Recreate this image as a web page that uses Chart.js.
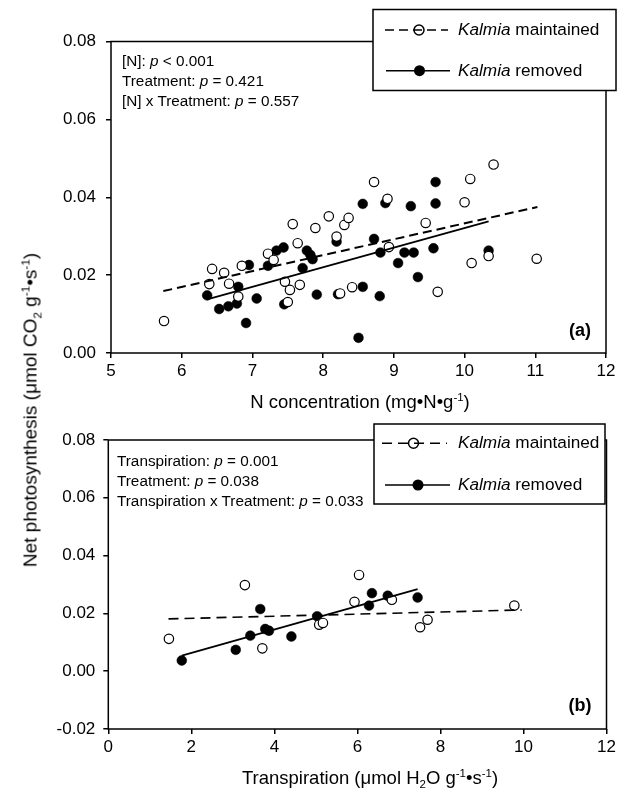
<!DOCTYPE html>
<html><head><meta charset="utf-8">
<script src="https://cdn.jsdelivr.net/npm/chart.js@4.4.0/dist/chart.umd.min.js"></script>
<style>
html,body{margin:0;padding:0;background:#fff;}
body{width:625px;height:792px;position:relative;overflow:hidden;font-family:"Liberation Sans",Arial,sans-serif;color:#000;}
.cw{position:absolute;left:0;width:625px;}
.t{position:absolute;white-space:nowrap;line-height:1;transform:translateY(-50%);}
.ann{font-size:15.3px;}
.leg{font-size:17.2px;}
.ax{font-size:18.5px;transform:translate(-50%,-50%);}
.lab{font-size:18px;font-weight:bold;transform:translate(-50%,-50%);}
sup,sub{font-size:0.62em;line-height:0;}
</style></head>
<body>
<div class="cw" style="top:0;height:400px"><canvas id="ca"></canvas></div>
<div class="cw" style="top:400px;height:392px"><canvas id="cb"></canvas></div>

<div class="t ann" style="left:122px;top:61px">[N]: <i>p</i> &lt; 0.001</div>
<div class="t ann" style="left:122px;top:81px">Treatment: <i>p</i> = 0.421</div>
<div class="t ann" style="left:122px;top:101px">[N] x Treatment: <i>p</i> = 0.557</div>
<div class="t leg" style="left:458px;top:30px"><i>Kalmia</i> maintained</div>
<div class="t leg" style="left:458px;top:71px"><i>Kalmia</i> removed</div>
<div class="t lab" style="left:580px;top:330px">(a)</div>
<div class="t ax" style="left:360px;top:402px">N concentration (mg•N•g<sup>-1</sup>)</div>

<div class="t ann" style="left:117px;top:461px">Transpiration: <i>p</i> = 0.001</div>
<div class="t ann" style="left:117px;top:481px">Treatment: <i>p</i> = 0.038</div>
<div class="t ann" style="left:117px;top:501px">Transpiration x Treatment: <i>p</i> = 0.033</div>
<div class="t leg" style="left:458px;top:443px"><i>Kalmia</i> maintained</div>
<div class="t leg" style="left:458px;top:485px"><i>Kalmia</i> removed</div>
<div class="t lab" style="left:580px;top:705px">(b)</div>
<div class="t ax" style="left:370px;top:778px">Transpiration (μmol H<sub>2</sub>O g<sup>-1</sup>•s<sup>-1</sup>)</div>

<div class="t ax" style="left:30px;top:410px;font-size:19px;transform:translate(-50%,-50%) rotate(-90deg);">Net photosynthesis (μmol CO<sub>2</sub> g<sup>-1</sup>•s<sup>-1</sup>)</div>

<script>
// ---------- Panel (a): N concentration ----------
const aMaintX = [5.75,6.39,6.43,6.60,6.67,6.80,6.85,7.22,7.30,7.46,7.50,7.53,7.57,7.64,7.67,7.89,8.08,8.19,8.24,8.30,8.36,8.41,8.72,8.91,8.93,9.45,9.62,10.00,10.08,10.10,10.34,10.41,11.02];
const aMaintY = [0.0082,0.0177,0.0216,0.0206,0.0178,0.0145,0.0224,0.0255,0.0239,0.0183,0.0131,0.0162,0.0331,0.0282,0.0175,0.0321,0.0351,0.0299,0.0153,0.0329,0.0347,0.0169,0.0439,0.0396,0.0272,0.0334,0.0157,0.0387,0.0447,0.0231,0.0249,0.0484,0.0242];
const aRemX = [6.36,6.53,6.66,6.78,6.80,6.91,6.95,7.06,7.22,7.34,7.44,7.45,7.71,7.77,7.82,7.85,7.91,8.19,8.21,8.50,8.56,8.56,8.72,8.80,8.81,8.88,9.06,9.15,9.24,9.28,9.34,9.56,9.59,9.59,10.34];
const aRemY = [0.0148,0.0113,0.0120,0.0127,0.0170,0.0077,0.0226,0.0140,0.0224,0.0263,0.0271,0.0125,0.0218,0.0263,0.0252,0.0241,0.0150,0.0286,0.0151,0.0039,0.0170,0.0383,0.0293,0.0146,0.0258,0.0385,0.0231,0.0258,0.0377,0.0258,0.0195,0.0269,0.0384,0.0439,0.0263];
const aMaintFitX = [5.74,11.03];
const aMaintFitY = [0.0159,0.0375];
const aRemFitX = [6.36,10.34];
const aRemFitY = [0.0138,0.0338];
const aXTicks = [5,6,7,8,9,10,11,12];
const aYTicks = [0.00,0.02,0.04,0.06,0.08];

// ---------- Panel (b): Transpiration ----------
const bMaintX = [1.46,3.29,3.71,5.08,5.17,5.93,6.04,6.83,7.51,7.69,9.78];
const bMaintY = [0.0112,0.0298,0.0079,0.0161,0.0167,0.0240,0.0333,0.0247,0.0152,0.0178,0.0227];
const bRemX = [1.77,3.07,3.42,3.66,3.78,3.87,4.41,5.03,6.28,6.35,6.73,7.45];
const bRemY = [0.0037,0.0074,0.0123,0.0215,0.0146,0.0140,0.0120,0.0190,0.0227,0.0270,0.0261,0.0255];
const bMaintFitX = [1.45,9.96];
const bMaintFitY = [0.0181,0.0212];
const bRemFitX = [1.77,7.45];
const bRemFitY = [0.0054,0.0284];
const bXTicks = [0,2,4,6,8,10,12];
const bYTicks = [-0.02,0.00,0.02,0.04,0.06,0.08];

const FONT = '"Liberation Sans", Arial, sans-serif';
const pts = (xs, ys) => xs.map((x, i) => ({x, y: ys[i]}));

const boxPlugin = {
  id: 'box',
  afterDraw(chart, args, o) {
    const ctx = chart.ctx, a = chart.chartArea;
    ctx.save();
    ctx.strokeStyle = '#000';
    ctx.lineWidth = 1.5;
    ctx.setLineDash([]);
    ctx.strokeRect(a.left, a.top, a.right - a.left, a.bottom - a.top);
    const L = o.legend;
    ctx.fillStyle = '#fff';
    ctx.fillRect(L.x0, L.y0, L.x1 - L.x0, L.y1 - L.y0);
    ctx.strokeRect(L.x0, L.y0, L.x1 - L.x0, L.y1 - L.y0);
    // row 1: dashed + open circle
    ctx.lineWidth = 1.5;
    ctx.beginPath();
    ctx.arc(L.c1, L.r1, 5, 0, Math.PI * 2);
    ctx.fillStyle = '#fff'; ctx.fill(); ctx.stroke();
    ctx.setLineDash(o.dash);
    ctx.beginPath(); ctx.moveTo(L.s1, L.r1); ctx.lineTo(L.e1, L.r1); ctx.stroke();
    ctx.setLineDash([]);
    // row 2: solid + filled
    ctx.beginPath(); ctx.moveTo(L.s2, L.r2); ctx.lineTo(L.e2, L.r2); ctx.stroke();
    ctx.beginPath(); ctx.arc(L.c2, L.r2, 5.5, 0, Math.PI * 2);
    ctx.fillStyle = '#000'; ctx.fill();
    ctx.restore();
  }
};

function makeChart(id, d) {
  const tickFont = {family: FONT, size: 17};
  return new Chart(document.getElementById(id), {
    type: 'scatter',
    data: {
      datasets: [
        {data: pts(d.mfx, d.mfy), showLine: true, borderColor: '#000', borderWidth: d.dashW, borderDash: d.dash, pointRadius: 0, order: 0},
        {data: pts(d.rfx, d.rfy), showLine: true, borderColor: '#000', borderWidth: 1.8, pointRadius: 0, order: 0},
        {data: pts(d.mx, d.my), pointRadius: 4.7, pointBorderWidth: 1.2, pointBackgroundColor: '#fff', pointBorderColor: '#000', order: 1},
        {data: pts(d.rx, d.ry), pointRadius: 4.9, pointBorderWidth: 0.5, pointBackgroundColor: '#000', pointBorderColor: '#000', order: 2}
      ]
    },
    options: {
      responsive: true, maintainAspectRatio: false, animation: false,
      layout: {padding: {top: d.top, right: d.right, left: 0, bottom: 0}},
      plugins: {legend: {display: false}, tooltip: {enabled: false}, box: {legend: d.legend, dash: d.dash}},
      scales: {
        x: {
          type: 'linear', min: d.xmin, max: d.xmax,
          afterBuildTicks: s => { s.ticks = d.xt.map(v => ({value: v})); },
          ticks: {font: tickFont, color: '#000', padding: 3, maxRotation: 0, autoSkip: false, callback: v => String(v)},
          grid: {display: true, drawOnChartArea: false, drawTicks: true, tickLength: 5, color: '#000', lineWidth: 1.5},
          border: {display: false},
          afterFit: s => { s.height = d.xh; }
        },
        y: {
          type: 'linear', min: d.ymin, max: d.ymax,
          afterBuildTicks: s => { s.ticks = d.yt.map(v => ({value: v})); },
          ticks: {font: tickFont, color: '#000', padding: d.ypad, autoSkip: false, callback: v => (Math.abs(v) < 1e-9 ? 0 : v).toFixed(2)},
          grid: {display: true, drawOnChartArea: false, drawTicks: true, tickLength: 5, color: '#000', lineWidth: 1.5},
          border: {display: false},
          afterFit: s => { s.width = d.yw; }
        }
      }
    },
    plugins: [boxPlugin]
  });
}

makeChart('ca', {
  mx: aMaintX, my: aMaintY, rx: aRemX, ry: aRemY,
  mfx: aMaintFitX, mfy: aMaintFitY, rfx: aRemFitX, rfy: aRemFitY,
  xt: aXTicks, yt: aYTicks, xmin: 5, xmax: 12, ymin: 0, ymax: 0.08,
  top: 41.5, right: 19, yw: 111, xh: 400 - 353, ypad: 10,
  dash: [9, 5], dashW: 2,
  legend: {x0: 373, x1: 616, y0: 9.5, y1: 90.5, r1: 30, r2: 70.7, s1: 385, e1: 448, c1: 419, s2: 386, e2: 450, c2: 419.5}
});

makeChart('cb', {
  mx: bMaintX, my: bMaintY, rx: bRemX, ry: bRemY,
  mfx: bMaintFitX, mfy: bMaintFitY, rfx: bRemFitX, rfy: bRemFitY,
  xt: bXTicks, yt: bYTicks, xmin: 0, xmax: 12, ymin: -0.02, ymax: 0.08,
  top: 40, right: 18.5, yw: 108.3, xh: 392 - 329, ypad: 8,
  dash: [10, 6], dashW: 1.6,
  legend: {x0: 374, x1: 605, y0: 24, y1: 104, r1: 43.3, r2: 85, s1: 382, e1: 447, c1: 413.5, s2: 385, e2: 450, c2: 418}
});
</script>
</body></html>
